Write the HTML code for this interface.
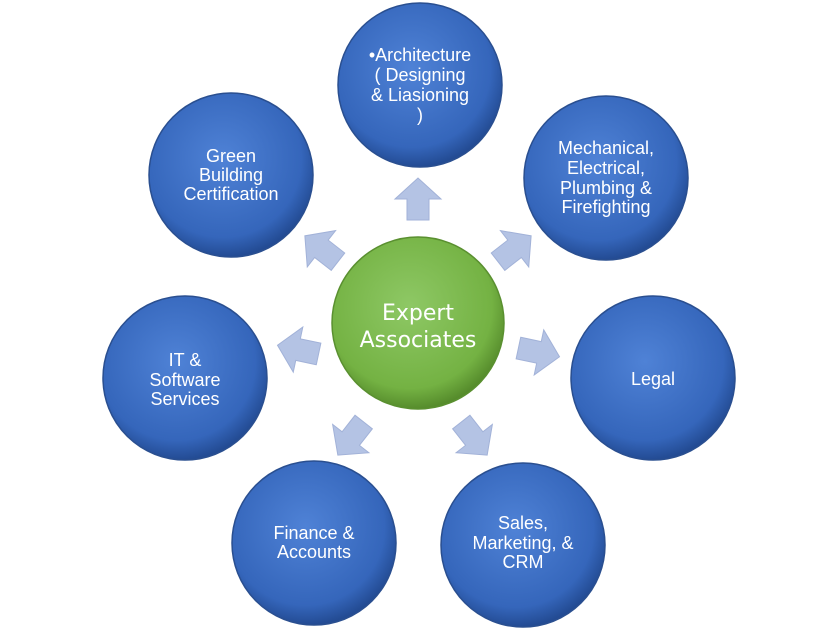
<!DOCTYPE html>
<html><head><style>
body{margin:0;background:#fff;width:837px;height:630px;overflow:hidden}
</style></head><body>
<svg width="837" height="630" viewBox="0 0 837 630" xmlns="http://www.w3.org/2000/svg">
<defs>
<radialGradient id="b" cx="0.45" cy="0.4" r="0.6">
<stop offset="0" stop-color="#4f82d6"/><stop offset="0.8" stop-color="#3566bb"/><stop offset="1" stop-color="#234b93"/>
</radialGradient>
<radialGradient id="g" cx="0.45" cy="0.4" r="0.6">
<stop offset="0" stop-color="#8ec865"/><stop offset="0.8" stop-color="#74b243"/><stop offset="1" stop-color="#568c2c"/>
</radialGradient>
<g id="ar"><path d="M-19,-11 L2,-11 L2,-23 L23,0 L2,23 L2,11 L-19,11 Z" fill="#b4c3e4" stroke="#a2b2d8" stroke-width="1"/></g>
</defs>
<g stroke="#2a4f90" stroke-width="1.5" fill="url(#b)">
<circle cx="420" cy="85" r="82"/>
<circle cx="606" cy="178" r="82"/>
<circle cx="653" cy="378" r="82"/>
<circle cx="523" cy="545" r="82"/>
<circle cx="314" cy="543" r="82"/>
<circle cx="185" cy="378" r="82"/>
<circle cx="231" cy="175" r="82"/>
</g>
<circle cx="418" cy="323" r="86" fill="url(#g)" stroke="#5a9030" stroke-width="1.5"/>
<use href="#ar" transform="translate(418,201) rotate(-90)"/>
<use href="#ar" transform="translate(323,250) rotate(-142)"/>
<use href="#ar" transform="translate(513,250) rotate(-38)"/>
<use href="#ar" transform="translate(300,350) rotate(-168)"/>
<use href="#ar" transform="translate(537,352) rotate(12)"/>
<use href="#ar" transform="translate(352,437) rotate(128)"/>
<use href="#ar" transform="translate(473,437) rotate(52)"/>
<g fill="#fff" font-family="Liberation Sans, sans-serif" font-size="18" text-anchor="middle">
<text x="420" y="61">•Architecture</text><text x="420" y="81">( Designing</text><text x="420" y="101">&amp; Liasioning</text><text x="420" y="121">)</text>
<text x="606" y="154">Mechanical,</text><text x="606" y="174">Electrical,</text><text x="606" y="194">Plumbing  &amp;</text><text x="606" y="213">Firefighting</text>
<text x="653" y="385">Legal</text>
<text x="523" y="529">Sales,</text><text x="523" y="549">Marketing, &amp;</text><text x="523" y="568">CRM</text>
<text x="314" y="539">Finance &amp;</text><text x="314" y="558">Accounts</text>
<text x="185" y="366">IT &amp;</text><text x="185" y="386">Software</text><text x="185" y="405">Services</text>
<text x="231" y="162">Green</text><text x="231" y="181">Building</text><text x="231" y="200">Certification</text>
</g>
<g fill="#fff" font-family="DejaVu Sans, sans-serif" font-size="22" text-anchor="middle">
<text x="418" y="320">Expert</text><text x="418" y="347">Associates</text>
</g>
</svg>
</body></html>
